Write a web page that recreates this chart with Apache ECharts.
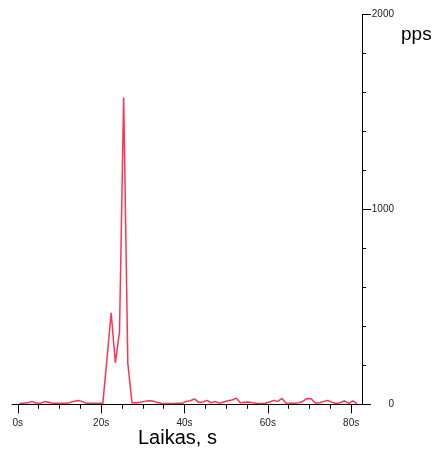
<!DOCTYPE html>
<html>
<head>
<meta charset="utf-8">
<script src="https://cdn.jsdelivr.net/npm/echarts@6/dist/echarts.min.js"></script>
<style>
  html, body { margin: 0; padding: 0; background: #fff; }
  #chart { width: 435px; height: 452px; }
</style>
</head>
<body>
<div id="chart"></div>
<script>
// Sample times (s) and packet rate (pps) per sample
const seconds = [
  0.4, 1.4, 2.4, 3.4, 4.4, 5.4, 6.4, 7.4, 8.4, 9.4,
  10.4, 11.4, 12.4, 13.4, 14.4, 15.4, 16.4, 17.4, 18.4, 19.4,
  20.4, 21.4, 22.4, 23.4, 24.4, 25.4, 26.4, 27.4, 28.4, 29.4,
  30.4, 31.4, 32.4, 33.4, 34.4, 35.4, 36.4, 37.4, 38.4, 39.4,
  40.4, 41.4, 42.4, 43.4, 44.4, 45.4, 46.4, 47.4, 48.4, 49.4,
  50.4, 51.4, 52.4, 53.4, 54.4, 55.4, 56.4, 57.4, 58.4, 59.4,
  60.4, 61.4, 62.4, 63.4, 64.4, 65.4, 66.4, 67.4, 68.4, 69.4,
  70.4, 71.4, 72.4, 73.4, 74.4, 75.4, 76.4, 77.4, 78.4, 79.4,
  80.4, 81.4
];
const pps = [
  5, 5, 8, 15, 7, 5, 14, 10, 5, 5,
  5, 6, 8, 15, 20, 15, 6, 5, 5, 5,
  5, 235, 470, 213, 372, 1574, 210, 8, 8, 10,
  15, 18, 17, 10, 5, 4, 4, 4, 6, 5,
  15, 18, 28, 10, 12, 20, 8, 15, 5, 12,
  18, 22, 32, 8, 10, 12, 8, 5, 4, 5,
  12, 20, 15, 30, 6, 5, 6, 8, 15, 30,
  28, 6, 8, 15, 20, 10, 4, 8, 18, 5,
  18, 4
];
const majorTicks = [0, 20, 40, 60, 80];
const minorTicks = [5, 10, 15, 25, 30, 35, 45, 50, 55, 65, 70, 75];
const yTitle = 'pps';
const xTitle = 'Laikas, s';

const font = 'Liberation Sans, Arial, sans-serif';
const chart = echarts.init(document.getElementById('chart'), null, { renderer: 'canvas' });

const xRange = { min: -1.4, max: 82.6 };

chart.setOption({
  animation: false,
  backgroundColor: '#fff',
  title: [
    { text: yTitle, left: 401, top: 25, padding: 0,
      textStyle: { fontSize: 19, fontWeight: 'normal', fontFamily: font, color: '#000' } },
    { text: xTitle, left: 138, top: 428, padding: 0,
      textStyle: { fontSize: 20, fontWeight: 'normal', fontFamily: font, color: '#000' } }
  ],
  grid: { left: 12, width: 350, top: 14.6, height: 389.7, containLabel: false },
  xAxis: [
    {
      type: 'value', position: 'bottom', min: xRange.min, max: xRange.max,
      axisLine: { show: true, onZero: false, lineStyle: { color: '#000', width: 1 } },
      axisTick: { show: true, customValues: majorTicks, length: 9, lineStyle: { color: '#000' } },
      axisLabel: { customValues: majorTicks, formatter: v => v + 's', margin: 14,
        fontSize: 10, fontFamily: font, color: '#222' },
      splitLine: { show: false }
    },
    {
      type: 'value', position: 'bottom', min: xRange.min, max: xRange.max,
      axisLine: { show: false, onZero: false },
      axisTick: { show: true, customValues: minorTicks, length: 4.5, lineStyle: { color: '#000' } },
      axisLabel: { show: false },
      splitLine: { show: false }
    }
  ],
  yAxis: {
    type: 'value', position: 'right', min: 0, max: 2000, interval: 1000,
    axisLine: { show: true, onZero: false, lineStyle: { color: '#000', width: 1 } },
    axisTick: { show: true, length: 9, lineStyle: { color: '#000' } },
    minorTick: { show: true, splitNumber: 5, length: 4, lineStyle: { color: '#000' } },
    axisLabel: { align: 'right', margin: 32, fontSize: 10, fontFamily: font, color: '#222',
      formatter: v => String(v) },
    splitLine: { show: false },
    minorSplitLine: { show: false }
  },
  series: [{
    type: 'line',
    xAxisIndex: 0,
    data: seconds.map((t, i) => [t, pps[i]]),
    showSymbol: false,
    symbol: 'none',
    lineStyle: { color: '#ff3352', width: 1.5 },
    itemStyle: { color: '#ff3352' }
  }]
});
</script>
</body>
</html>
